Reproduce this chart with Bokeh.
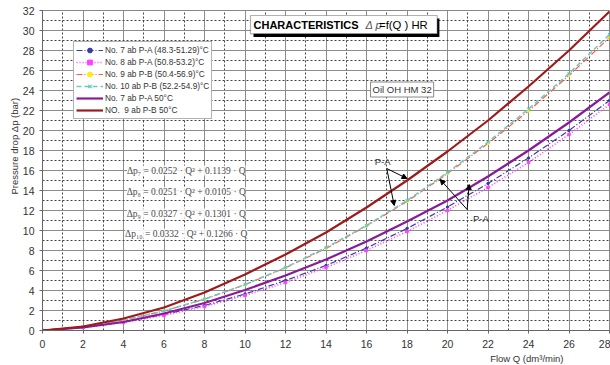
from bokeh.plotting import figure
from bokeh.models import (Label, Arrow, NormalHead, BoxAnnotation, Legend, LegendItem,
                          FixedTicker, Range1d, Title)
from bokeh.embed import file_html
from bokeh.resources import INLINE

# ---------------- data ----------------
flow_q = [0, 2, 4, 6, 8, 10, 12, 14, 16, 18, 20, 22, 24, 26, 28]
no7_range = [0, 0.33, 0.86, 1.6, 2.5, 3.65, 5.0, 6.5, 8.25, 10.2, 12.35, 14.7, 17.25, 20.0, 23.0]
no8_range = [0, 0.3, 0.8, 1.5, 2.4, 3.5, 4.8, 6.3, 8.0, 9.9, 12.0, 14.3, 16.8, 19.6, 22.6]
no9_range = [0, 0.39, 1.04, 1.95, 3.13, 4.57, 6.27, 8.2, 10.45, 12.9, 15.7, 18.7, 21.95, 25.5, 29.3]
no10_range = [0, 0.39, 1.05, 1.96, 3.14, 4.6, 6.3, 8.3, 10.5, 13.0, 15.8, 18.85, 22.15, 25.7, 29.6]
no7_50 = [0, 0.3, 0.85, 1.7, 2.75, 4.05, 5.5, 7.1, 8.9, 10.9, 13.0, 15.4, 18.0, 20.8, 23.8]
no9_50 = [0, 0.4, 1.2, 2.3, 3.8, 5.6, 7.6, 9.8, 12.3, 15.0, 17.9, 21.0, 24.4, 28.0, 31.9]

legend_labels = ["No. 7 ab P-A (48.3-51.29)°C", "No. 8 ab P-A (50.8-53.2)°C",
                 "No. 9 ab P-B (50.4-56.9)°C", "No. 10 ab P-B (52.2-54.9)°C",
                 "No. 7 ab P-A 50°C", "NO.  9 ab P-B 50°C"]
formulas = ["Δp₇ = 0.0252 · Q² + 0.1139 · Q",
            "Δp₈ = 0.0251 · Q² + 0.0105 · Q",
            "Δp₉ = 0.0327 · Q² + 0.1301 · Q",
            "Δp₁₀ = 0.0332 · Q² + 0.1266 · Q"]
x_ticks = list(range(0, 29, 2))
y_ticks = list(range(0, 33, 2))

FONT = "Liberation Sans"
TXT = "#333333"

p = figure(width=610, height=365, x_range=Range1d(0, 28), y_range=Range1d(0, 32),
           output_backend="svg", toolbar_location=None,
           min_border_left=42, min_border_right=1, min_border_top=10, min_border_bottom=35)
p.background_fill_color = "white"
p.border_fill_color = "white"
p.outline_line_color = "#888888"

p.xaxis.ticker = FixedTicker(ticks=x_ticks, minor_ticks=list(range(1, 28, 2)))
p.yaxis.ticker = FixedTicker(ticks=y_ticks, minor_ticks=list(range(1, 32, 2)))
for ax in (p.xaxis[0], p.yaxis[0]):
    ax.major_label_text_font = FONT
    ax.major_label_text_font_size = "10.5px"
    ax.major_label_text_color = TXT
    ax.axis_line_color = "#666666"
    ax.major_tick_line_color = "#666666"
    ax.major_tick_out = 3
    ax.major_tick_in = 0
    ax.minor_tick_out = 0
    ax.minor_tick_in = 0
p.xaxis.major_label_standoff = 6
p.yaxis.major_label_standoff = 5

for g in (p.xgrid[0], p.ygrid[0]):
    g.grid_line_color = "#8c8c8c"
    g.grid_line_width = 1
    g.minor_grid_line_color = "#444444"
    g.minor_grid_line_dash = "2 2"
    g.minor_grid_line_width = 1

# axis titles (offset from centre, as in the reference)
p.add_layout(Title(text="Flow Q (dm³/min)", align="right", offset=46, text_font=FONT,
                   text_font_size="9.5px", text_font_style="normal", text_color=TXT,
                   standoff=0), "below")
p.add_layout(Title(text="Pressure drop  Δp (bar)", align="left", offset=136, text_font=FONT,
                   text_font_size="9.5px", text_font_style="normal", text_color=TXT,
                   standoff=0), "left")

# ---------------- series ----------------
r1 = p.line(flow_q, no7_range, line_color="#3a3aa8", line_width=1.2, line_dash="6 2 1 2")
m1 = p.scatter(flow_q, no7_range, marker="circle", size=2.5, fill_color="#3a3aa8", line_color="#3a3aa8")
r2 = p.line(flow_q, no8_range, line_color="#ff40ff", line_width=1.6, line_dash="1 2")
m2 = p.scatter(flow_q, no8_range, marker="square", size=2.5, fill_color="#ff40ff", line_color="#ff40ff")
r3 = p.line(flow_q, no9_range, line_color="#ff5a46", line_width=1.2, line_dash="6 2 1 2")
m3 = p.scatter(flow_q, no9_range, marker="circle", size=2.5, fill_color="#ffee00", line_color="#ffee00")
r4 = p.line(flow_q, no10_range, line_color="#6ccac4", line_width=1.5, line_dash="5 3")
m4 = p.scatter(flow_q, no10_range, marker="x", size=4, line_color="#55cccc", line_width=1.2)
r5 = p.line(flow_q, no7_50, line_color="#8a1a9a", line_width=2.2)
r6 = p.line(flow_q, no9_50, line_color="#9e1b1b", line_width=2.2)

items = [LegendItem(label=legend_labels[0], renderers=[r1, m1]),
         LegendItem(label=legend_labels[1], renderers=[r2, m2]),
         LegendItem(label=legend_labels[2], renderers=[r3, m3]),
         LegendItem(label=legend_labels[3], renderers=[r4, m4]),
         LegendItem(label=legend_labels[4], renderers=[r5]),
         LegendItem(label=legend_labels[5], renderers=[r6])]
legend = Legend(items=items, location=(31, 211), orientation="vertical",
                label_text_font=FONT, label_text_font_size="8.3px", label_text_color=TXT,
                glyph_width=27, glyph_height=12, label_height=12, spacing=0, padding=2,
                margin=0, label_standoff=2, border_line_color="#666666",
                background_fill_color="white", background_fill_alpha=1)
p.add_layout(legend, "center")

# ---------------- title box ----------------
p.add_layout(BoxAnnotation(left=10.42, right=19.6, bottom=29.35, top=31.2,
                           fill_color="black", fill_alpha=1, line_color=None))
p.add_layout(BoxAnnotation(left=10.27, right=19.49, bottom=29.67, top=31.5,
                           fill_color="white", fill_alpha=1, line_color="black", line_width=1.2))
p.add_layout(Label(x=10.42, y=30.57, text="CHARACTERISTICS", text_font=FONT,
                   text_font_size="11px", text_font_style="bold", text_color="black",
                   text_baseline="middle"))
p.add_layout(Label(x=15.95, y=30.57, text="Δ p", text_font=FONT,
                   text_font_size="11px", text_font_style="italic", text_color="#555555",
                   text_baseline="middle"))
p.add_layout(Label(x=16.62, y=30.57, text="=f(Q ) HR", text_font=FONT,
                   text_font_size="11.3px", text_color="black", text_baseline="middle"))

# oil label
p.add_layout(Label(x=16.2, y=24.1, text="Oil OH HM 32", text_font=FONT,
                   text_font_size="9.5px", text_color=TXT, text_baseline="middle",
                   border_line_color="#888888", background_fill_color="white", padding=2))

# formulas
for txt, yv in zip(formulas, [16.0, 13.85, 11.7, 9.7]):
    p.add_layout(Label(x=7.1, y=yv, text=txt, text_font="Liberation Serif",
                       text_font_size="9.5px", text_color="#4a4a4a", text_align="center",
                       text_baseline="middle", background_fill_color="white",
                       background_fill_alpha=0.85))

# P-A annotations
p.add_layout(Label(x=16.8, y=16.9, text="P-A", text_font=FONT, text_font_size="9.5px",
                   text_color=TXT, text_align="center", text_baseline="middle"))
p.add_layout(Label(x=21.65, y=11.2, text="P-A", text_font=FONT, text_font_size="9.5px",
                   text_color=TXT, text_align="center", text_baseline="middle"))
for (xs, ys, xe, ye) in [(17.0, 16.2, 18.0, 15.2), (17.0, 16.2, 17.37, 12.5),
                         (20.97, 12.1, 19.64, 15.1), (20.97, 12.1, 21.07, 14.6)]:
    p.add_layout(Arrow(x_start=xs, y_start=ys, x_end=xe, y_end=ye, line_color="black",
                       line_width=1, end=NormalHead(size=5, fill_color="black",
                                                    line_color="black")))

open("out.html", "w").write(file_html(p, INLINE))
